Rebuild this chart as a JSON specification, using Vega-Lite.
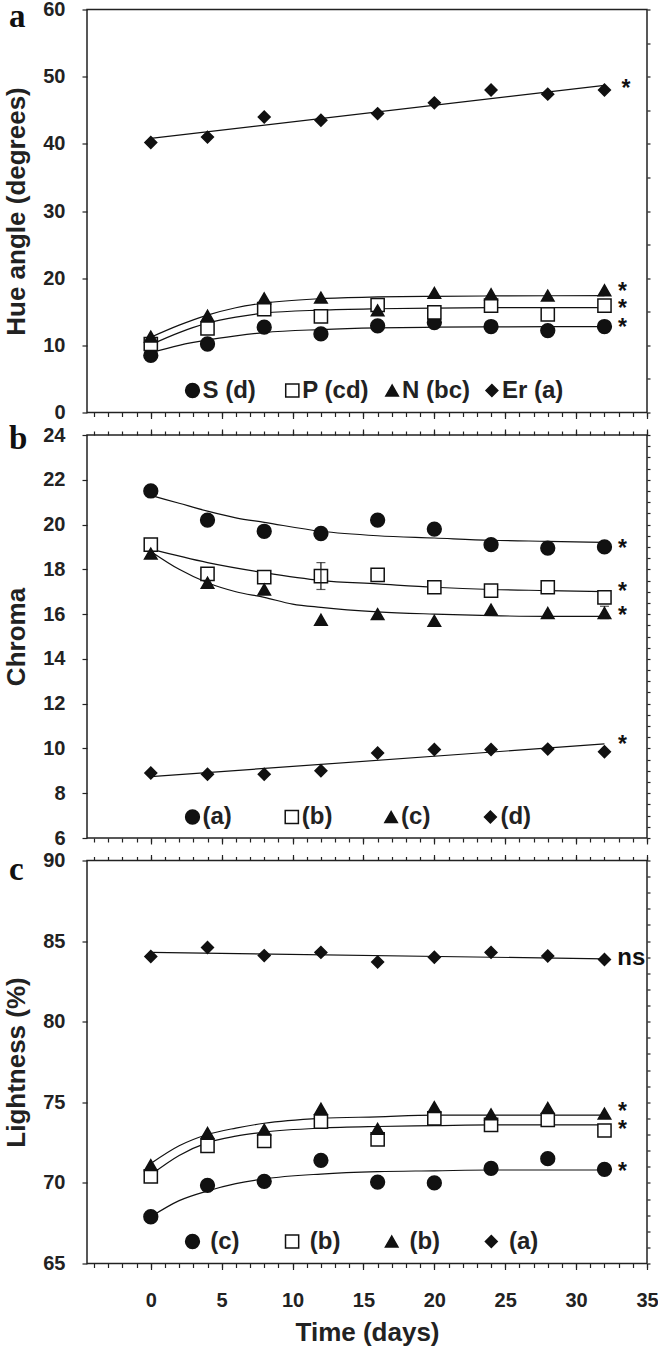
{
  "$schema": "https://vega.github.io/schema/vega-lite/v6.json",
  "padding": {"left": 2, "top": -1.5, "right": 0, "bottom": 0},
  "bounds": "flush",
  "spacing": 22.5,
  "resolve": {"scale": {"shape": "independent", "fill": "independent", "size": "independent", "stroke": "independent"}, "legend": {"shape": "independent", "fill": "independent", "size": "independent", "stroke": "independent"}},
  "config": {
    "font": "Liberation Sans",
    "view": {"stroke": "#222", "strokeWidth": 1.5},
    "axis": {"domain": false, "grid": false, "labelFont": "Liberation Sans", "labelFontWeight": "bold", "labelFontSize": 20, "labelColor": "#222", "labelFlush": false, "labelOverlap": false, "titleFont": "Liberation Sans", "titleFontWeight": "bold", "titleFontSize": 26, "titleColor": "#222", "tickColor": "#222", "tickWidth": 1.2},
    "legend": {"title": null, "labelFont": "Liberation Sans", "labelFontWeight": "bold", "labelFontSize": 24, "labelColor": "#222", "symbolStrokeColor": "#111", "symbolStrokeWidth": 1.5, "padding": 0, "rowPadding": 0},
    "title": {"font": "Liberation Serif", "fontSize": 33, "fontWeight": "bold", "color": "#111", "anchor": "start", "frame": "group", "baseline": "alphabetic", "offset": 0, "dx": -78}
  },
  "datasets": {
    "a_pts": [
      {"day": 0, "series": "S", "value": 8.5}, {"day": 4, "series": "S", "value": 10.2}, {"day": 8, "series": "S", "value": 12.7}, {"day": 12, "series": "S", "value": 11.7}, {"day": 16, "series": "S", "value": 12.9}, {"day": 20, "series": "S", "value": 13.4}, {"day": 24, "series": "S", "value": 12.8}, {"day": 28, "series": "S", "value": 12.2}, {"day": 32, "series": "S", "value": 12.8},
      {"day": 0, "series": "P", "value": 10.2}, {"day": 4, "series": "P", "value": 12.5}, {"day": 8, "series": "P", "value": 15.4}, {"day": 12, "series": "P", "value": 14.3}, {"day": 16, "series": "P", "value": 16.0}, {"day": 20, "series": "P", "value": 14.9}, {"day": 24, "series": "P", "value": 15.9}, {"day": 28, "series": "P", "value": 14.6}, {"day": 32, "series": "P", "value": 15.9},
      {"day": 0, "series": "N", "value": 11.3}, {"day": 4, "series": "N", "value": 14.4}, {"day": 8, "series": "N", "value": 17.0}, {"day": 12, "series": "N", "value": 17.1}, {"day": 16, "series": "N", "value": 15.2}, {"day": 20, "series": "N", "value": 17.8}, {"day": 24, "series": "N", "value": 17.6}, {"day": 28, "series": "N", "value": 17.4}, {"day": 32, "series": "N", "value": 18.2},
      {"day": 0, "series": "Er", "value": 40.2}, {"day": 4, "series": "Er", "value": 41.0}, {"day": 8, "series": "Er", "value": 44.0}, {"day": 12, "series": "Er", "value": 43.5}, {"day": 16, "series": "Er", "value": 44.5}, {"day": 20, "series": "Er", "value": 46.1}, {"day": 24, "series": "Er", "value": 48.0}, {"day": 28, "series": "Er", "value": 47.4}, {"day": 32, "series": "Er", "value": 48.0}
    ],
    "a_fit": [
      {"day": 0, "series": "S", "fit": 8.9}, {"day": 2, "series": "S", "fit": 10.0}, {"day": 4, "series": "S", "fit": 10.8}, {"day": 6, "series": "S", "fit": 11.4}, {"day": 8, "series": "S", "fit": 11.9}, {"day": 12, "series": "S", "fit": 12.35}, {"day": 16, "series": "S", "fit": 12.6}, {"day": 20, "series": "S", "fit": 12.7}, {"day": 24, "series": "S", "fit": 12.75}, {"day": 32, "series": "S", "fit": 12.8},
      {"day": 0, "series": "P", "fit": 10.1}, {"day": 2, "series": "P", "fit": 11.9}, {"day": 4, "series": "P", "fit": 13.3}, {"day": 6, "series": "P", "fit": 14.2}, {"day": 8, "series": "P", "fit": 14.8}, {"day": 12, "series": "P", "fit": 15.25}, {"day": 16, "series": "P", "fit": 15.45}, {"day": 20, "series": "P", "fit": 15.55}, {"day": 24, "series": "P", "fit": 15.6}, {"day": 32, "series": "P", "fit": 15.6},
      {"day": 0, "series": "N", "fit": 11.2}, {"day": 2, "series": "N", "fit": 13.0}, {"day": 4, "series": "N", "fit": 14.5}, {"day": 6, "series": "N", "fit": 15.6}, {"day": 8, "series": "N", "fit": 16.3}, {"day": 12, "series": "N", "fit": 16.95}, {"day": 16, "series": "N", "fit": 17.2}, {"day": 20, "series": "N", "fit": 17.3}, {"day": 24, "series": "N", "fit": 17.35}, {"day": 32, "series": "N", "fit": 17.4},
      {"day": 0, "series": "Er", "fit": 40.8}, {"day": 32, "series": "Er", "fit": 48.7}
    ],
    "a_ann": [
      {"day": 32.95, "value": 13.2, "label": "*"}, {"day": 32.95, "value": 16.05, "label": "*"}, {"day": 32.95, "value": 18.6, "label": "*"}, {"day": 33.2, "value": 48.8, "label": "*"}
    ],
    "b_pts": [
      {"day": 0, "series": "S", "value": 21.5}, {"day": 4, "series": "S", "value": 20.2}, {"day": 8, "series": "S", "value": 19.7}, {"day": 12, "series": "S", "value": 19.6}, {"day": 16, "series": "S", "value": 20.2}, {"day": 20, "series": "S", "value": 19.8}, {"day": 24, "series": "S", "value": 19.1}, {"day": 28, "series": "S", "value": 18.95}, {"day": 32, "series": "S", "value": 19.0},
      {"day": 0, "series": "P", "value": 19.1}, {"day": 4, "series": "P", "value": 17.8}, {"day": 8, "series": "P", "value": 17.65}, {"day": 12, "series": "P", "value": 17.7}, {"day": 16, "series": "P", "value": 17.75}, {"day": 20, "series": "P", "value": 17.2}, {"day": 24, "series": "P", "value": 17.05}, {"day": 28, "series": "P", "value": 17.2}, {"day": 32, "series": "P", "value": 16.75},
      {"day": 0, "series": "N", "value": 18.7}, {"day": 4, "series": "N", "value": 17.4}, {"day": 8, "series": "N", "value": 17.1}, {"day": 12, "series": "N", "value": 15.75}, {"day": 16, "series": "N", "value": 16.0}, {"day": 20, "series": "N", "value": 15.7}, {"day": 24, "series": "N", "value": 16.2}, {"day": 28, "series": "N", "value": 16.05}, {"day": 32, "series": "N", "value": 16.05},
      {"day": 0, "series": "Er", "value": 8.9}, {"day": 4, "series": "Er", "value": 8.85}, {"day": 8, "series": "Er", "value": 8.85}, {"day": 12, "series": "Er", "value": 9.0}, {"day": 16, "series": "Er", "value": 9.8}, {"day": 20, "series": "Er", "value": 9.95}, {"day": 24, "series": "Er", "value": 9.95}, {"day": 28, "series": "Er", "value": 9.97}, {"day": 32, "series": "Er", "value": 9.85}
    ],
    "b_fit": [
      {"day": 0, "series": "S", "fit": 21.3}, {"day": 2, "series": "S", "fit": 20.95}, {"day": 4, "series": "S", "fit": 20.6}, {"day": 6, "series": "S", "fit": 20.3}, {"day": 8, "series": "S", "fit": 20.1}, {"day": 12, "series": "S", "fit": 19.7}, {"day": 16, "series": "S", "fit": 19.5}, {"day": 20, "series": "S", "fit": 19.4}, {"day": 24, "series": "S", "fit": 19.3}, {"day": 28, "series": "S", "fit": 19.25}, {"day": 32, "series": "S", "fit": 19.2},
      {"day": 0, "series": "P", "fit": 18.9}, {"day": 4, "series": "P", "fit": 18.3}, {"day": 8, "series": "P", "fit": 17.85}, {"day": 12, "series": "P", "fit": 17.5}, {"day": 16, "series": "P", "fit": 17.35}, {"day": 20, "series": "P", "fit": 17.2}, {"day": 24, "series": "P", "fit": 17.1}, {"day": 28, "series": "P", "fit": 17.05}, {"day": 32, "series": "P", "fit": 17.0},
      {"day": 0, "series": "N", "fit": 18.8}, {"day": 2, "series": "N", "fit": 18.0}, {"day": 4, "series": "N", "fit": 17.4}, {"day": 6, "series": "N", "fit": 17.0}, {"day": 8, "series": "N", "fit": 16.75}, {"day": 10, "series": "N", "fit": 16.45}, {"day": 12, "series": "N", "fit": 16.3}, {"day": 16, "series": "N", "fit": 16.1}, {"day": 20, "series": "N", "fit": 16.0}, {"day": 24, "series": "N", "fit": 15.93}, {"day": 28, "series": "N", "fit": 15.9}, {"day": 32, "series": "N", "fit": 15.9},
      {"day": 0, "series": "Er", "fit": 8.74}, {"day": 32, "series": "Er", "fit": 10.2}
    ],
    "b_err": [
      {"day": 12, "lo": 17.1, "hi": 18.3}, {"day": 32, "lo": 15.8, "hi": 16.35}
    ],
    "b_ann": [
      {"day": 32.95, "value": 19.1, "label": "*"}, {"day": 32.95, "value": 17.17, "label": "*"}, {"day": 32.95, "value": 16.1, "label": "*"}, {"day": 32.95, "value": 10.35, "label": "*"}
    ],
    "c_pts": [
      {"day": 0, "series": "S", "value": 67.9}, {"day": 4, "series": "S", "value": 69.85}, {"day": 8, "series": "S", "value": 70.1}, {"day": 12, "series": "S", "value": 71.4}, {"day": 16, "series": "S", "value": 70.05}, {"day": 20, "series": "S", "value": 70.0}, {"day": 24, "series": "S", "value": 70.9}, {"day": 28, "series": "S", "value": 71.5}, {"day": 32, "series": "S", "value": 70.84},
      {"day": 0, "series": "P", "value": 70.4}, {"day": 4, "series": "P", "value": 72.3}, {"day": 8, "series": "P", "value": 72.6}, {"day": 12, "series": "P", "value": 73.8}, {"day": 16, "series": "P", "value": 72.7}, {"day": 20, "series": "P", "value": 74.0}, {"day": 24, "series": "P", "value": 73.6}, {"day": 28, "series": "P", "value": 73.9}, {"day": 32, "series": "P", "value": 73.25},
      {"day": 0, "series": "N", "value": 71.1}, {"day": 4, "series": "N", "value": 73.1}, {"day": 8, "series": "N", "value": 73.3}, {"day": 12, "series": "N", "value": 74.6}, {"day": 16, "series": "N", "value": 73.35}, {"day": 20, "series": "N", "value": 74.7}, {"day": 24, "series": "N", "value": 74.25}, {"day": 28, "series": "N", "value": 74.65}, {"day": 32, "series": "N", "value": 74.3},
      {"day": 0, "series": "Er", "value": 84.05}, {"day": 4, "series": "Er", "value": 84.6}, {"day": 8, "series": "Er", "value": 84.1}, {"day": 12, "series": "Er", "value": 84.3}, {"day": 16, "series": "Er", "value": 83.7}, {"day": 20, "series": "Er", "value": 84.0}, {"day": 24, "series": "Er", "value": 84.3}, {"day": 28, "series": "Er", "value": 84.07}, {"day": 32, "series": "Er", "value": 83.86}
    ],
    "c_fit": [
      {"day": 0, "series": "S", "fit": 67.9}, {"day": 2, "series": "S", "fit": 68.9}, {"day": 4, "series": "S", "fit": 69.5}, {"day": 6, "series": "S", "fit": 69.95}, {"day": 8, "series": "S", "fit": 70.25}, {"day": 12, "series": "S", "fit": 70.55}, {"day": 16, "series": "S", "fit": 70.7}, {"day": 20, "series": "S", "fit": 70.75}, {"day": 24, "series": "S", "fit": 70.8}, {"day": 32, "series": "S", "fit": 70.8},
      {"day": 0, "series": "P", "fit": 70.5}, {"day": 2, "series": "P", "fit": 71.7}, {"day": 4, "series": "P", "fit": 72.5}, {"day": 6, "series": "P", "fit": 72.9}, {"day": 8, "series": "P", "fit": 73.15}, {"day": 12, "series": "P", "fit": 73.4}, {"day": 16, "series": "P", "fit": 73.5}, {"day": 20, "series": "P", "fit": 73.55}, {"day": 24, "series": "P", "fit": 73.6}, {"day": 32, "series": "P", "fit": 73.6},
      {"day": 0, "series": "N", "fit": 71.2}, {"day": 2, "series": "N", "fit": 72.3}, {"day": 4, "series": "N", "fit": 73.0}, {"day": 6, "series": "N", "fit": 73.4}, {"day": 8, "series": "N", "fit": 73.7}, {"day": 12, "series": "N", "fit": 74.0}, {"day": 16, "series": "N", "fit": 74.1}, {"day": 20, "series": "N", "fit": 74.2}, {"day": 24, "series": "N", "fit": 74.2}, {"day": 32, "series": "N", "fit": 74.2},
      {"day": 0, "series": "Er", "fit": 84.3}, {"day": 32, "series": "Er", "fit": 83.9}
    ],
    "c_ann": [
      {"day": 32.95, "value": 70.94, "label": "*"}, {"day": 32.95, "value": 73.57, "label": "*"}, {"day": 32.95, "value": 74.66, "label": "*"}
    ],
    "c_ns": [
      {"day": 32.9, "value": 84.0, "label": "ns"}
    ]
  },
  "vconcat": [
    {
      "width": 560, "height": 403,
      "title": {"text": "a", "dy": 38.5},
      "resolve": {"axis": {"x": "independent", "y": "independent"}},
      "layer": [
        {
          "data": {"name": "a_fit"},
          "mark": {"type": "line", "color": "#111", "strokeWidth": 1.2, "interpolate": "monotone"},
          "encoding": {
            "x": {"field": "day", "type": "quantitative", "scale": {"domain": [-4.5, 35], "nice": false, "zero": false}, "axis": {"orient": "bottom", "values": [0, 5, 10, 15, 20, 25, 30, 35], "labels": false, "tickSize": 6, "title": null}},
            "y": {"field": "fit", "type": "quantitative", "scale": {"domain": [0, 60], "nice": false, "zero": false}, "axis": {"values": [0, 10, 20, 30, 40, 50, 60], "tickSize": 5, "labelPadding": 17, "title": "Hue angle (degrees)", "titlePadding": 15, "minExtent": 43, "maxExtent": 43}},
            "detail": {"field": "series"}
          }
        },
        {
          "data": {"name": "a_pts"},
          "mark": {"type": "point", "filled": true, "strokeWidth": 1.5, "opacity": 1},
          "encoding": {
            "x": {"field": "day", "type": "quantitative", "scale": {"domain": [-4.5, 35], "nice": false, "zero": false}, "axis": {"orient": "bottom", "values": [-4, -3, -2, -1, 0, 1, 2, 3, 4, 5, 6, 7, 8, 9, 10, 11, 12, 13, 14, 15, 16, 17, 18, 19, 20, 21, 22, 23, 24, 25, 26, 27, 28, 29, 30, 31, 32, 33, 34, 35], "labels": false, "tickSize": 4, "title": null}},
            "y": {"field": "value", "type": "quantitative", "scale": {"domain": [0, 60], "nice": false, "zero": false}, "axis": {"values": [0, 5, 10, 15, 20, 25, 30, 35, 40, 45, 50, 55, 60], "tickSize": 3, "labels": false, "title": null, "minExtent": 43, "maxExtent": 43}},
            "shape": {"field": "series", "type": "nominal", "scale": {"domain": ["S", "P", "N", "Er"], "range": ["circle", "square", "triangle-up", "diamond"]}, "legend": {"orient": "none", "legendX": 93.5, "legendY": 369, "direction": "horizontal", "columns": 4, "gridAlign": "all", "columnPadding": 9.8, "labelOffset": -2, "labelExpr": "datum.value == 'S' ? 'S (d)' : datum.value == 'P' ? 'P (cd)' : datum.value == 'N' ? 'N (bc)' : 'Er (a)'"}},
            "fill": {"field": "series", "type": "nominal", "scale": {"domain": ["S", "P", "N", "Er"], "range": ["#111", "#ffffff", "#111", "#111"]}},
            "stroke": {"field": "series", "type": "nominal", "scale": {"domain": ["S", "P", "N", "Er"], "range": ["#111", "#111", "#111", "#111"]}},
            "size": {"field": "series", "type": "nominal", "scale": {"domain": ["S", "P", "N", "Er"], "range": [190, 140, 210, 280]}}
          }
        },
        {
          "data": {"name": "a_ann"},
          "mark": {"type": "text", "align": "left", "baseline": "alphabetic", "dy": 11.5, "font": "Liberation Sans", "fontWeight": "bold", "fontSize": 23, "color": "#111"},
          "encoding": {
            "x": {"field": "day", "type": "quantitative", "scale": {"domain": [-4.5, 35], "nice": false, "zero": false}, "axis": null},
            "y": {"field": "value", "type": "quantitative", "scale": {"domain": [0, 60], "nice": false, "zero": false}, "axis": null},
            "text": {"field": "label"}
          }
        }
      ]
    },
    {
      "width": 560, "height": 403,
      "title": {"text": "b", "dy": 35},
      "resolve": {"axis": {"x": "independent", "y": "independent"}},
      "layer": [
        {
          "data": {"name": "b_fit"},
          "mark": {"type": "line", "color": "#111", "strokeWidth": 1.2, "interpolate": "monotone"},
          "encoding": {
            "x": {"field": "day", "type": "quantitative", "scale": {"domain": [-4.5, 35], "nice": false, "zero": false}, "axis": {"orient": "bottom", "values": [0, 5, 10, 15, 20, 25, 30, 35], "labels": false, "tickSize": 6, "title": null}},
            "y": {"field": "fit", "type": "quantitative", "scale": {"domain": [6, 24], "nice": false, "zero": false}, "axis": {"values": [6, 8, 10, 12, 14, 16, 18, 20, 22, 24], "tickSize": 5, "labelPadding": 17, "title": "Chroma", "titlePadding": 15, "minExtent": 43, "maxExtent": 43}},
            "detail": {"field": "series"}
          }
        },
        {
          "data": {"name": "b_pts"},
          "mark": {"type": "point", "filled": true, "strokeWidth": 1.5, "opacity": 1},
          "encoding": {
            "x": {"field": "day", "type": "quantitative", "scale": {"domain": [-4.5, 35], "nice": false, "zero": false}, "axis": {"orient": "bottom", "values": [-4, -3, -2, -1, 0, 1, 2, 3, 4, 5, 6, 7, 8, 9, 10, 11, 12, 13, 14, 15, 16, 17, 18, 19, 20, 21, 22, 23, 24, 25, 26, 27, 28, 29, 30, 31, 32, 33, 34, 35], "labels": false, "tickSize": 4, "title": null}},
            "y": {"field": "value", "type": "quantitative", "scale": {"domain": [6, 24], "nice": false, "zero": false}, "axis": {"values": [6, 6.5, 7, 7.5, 8, 8.5, 9, 9.5, 10, 10.5, 11, 11.5, 12, 12.5, 13, 13.5, 14, 14.5, 15, 15.5, 16, 16.5, 17, 17.5, 18, 18.5, 19, 19.5, 20, 20.5, 21, 21.5, 22, 22.5, 23, 23.5, 24], "tickSize": 3, "labels": false, "title": null, "minExtent": 43, "maxExtent": 43}},
            "shape": {"field": "series", "type": "nominal", "scale": {"domain": ["S", "P", "N", "Er"], "range": ["circle", "square", "triangle-up", "diamond"]}, "legend": {"orient": "none", "legendX": 93.5, "legendY": 370, "direction": "horizontal", "columns": 4, "gridAlign": "all", "columnPadding": 46.3, "labelOffset": -2, "labelExpr": "datum.value == 'S' ? '(a)' : datum.value == 'P' ? '(b)' : datum.value == 'N' ? '(c)' : '(d)'"}},
            "fill": {"field": "series", "type": "nominal", "scale": {"domain": ["S", "P", "N", "Er"], "range": ["#111", "#ffffff", "#111", "#111"]}},
            "stroke": {"field": "series", "type": "nominal", "scale": {"domain": ["S", "P", "N", "Er"], "range": ["#111", "#111", "#111", "#111"]}},
            "size": {"field": "series", "type": "nominal", "scale": {"domain": ["S", "P", "N", "Er"], "range": [190, 140, 210, 280]}}
          }
        },
        {
          "data": {"name": "b_ann"},
          "mark": {"type": "text", "align": "left", "baseline": "alphabetic", "dy": 11.5, "font": "Liberation Sans", "fontWeight": "bold", "fontSize": 23, "color": "#111"},
          "encoding": {
            "x": {"field": "day", "type": "quantitative", "scale": {"domain": [-4.5, 35], "nice": false, "zero": false}, "axis": {"orient": "top", "values": [0, 5, 10, 15, 20, 25, 30, 35], "labels": false, "tickSize": 6, "title": null}},
            "y": {"field": "value", "type": "quantitative", "scale": {"domain": [6, 24], "nice": false, "zero": false}, "axis": null},
            "text": {"field": "label"}
          }
        },
        {
          "data": {"name": "b_err"},
          "mark": {"type": "rule", "color": "#111", "strokeWidth": 1.2},
          "encoding": {
            "x": {"field": "day", "type": "quantitative", "scale": {"domain": [-4.5, 35], "nice": false, "zero": false}, "axis": {"orient": "top", "values": [-4, -3, -2, -1, 0, 1, 2, 3, 4, 5, 6, 7, 8, 9, 10, 11, 12, 13, 14, 15, 16, 17, 18, 19, 20, 21, 22, 23, 24, 25, 26, 27, 28, 29, 30, 31, 32, 33, 34, 35], "labels": false, "tickSize": 4, "title": null}},
            "y": {"field": "lo", "type": "quantitative", "scale": {"domain": [6, 24], "nice": false, "zero": false}, "axis": null},
            "y2": {"field": "hi"}
          }
        },
        {
          "data": {"name": "b_err"},
          "mark": {"type": "tick", "orient": "horizontal", "color": "#111", "size": 9, "thickness": 1.2},
          "encoding": {
            "x": {"field": "day", "type": "quantitative", "scale": {"domain": [-4.5, 35], "nice": false, "zero": false}, "axis": null},
            "y": {"field": "lo", "type": "quantitative", "scale": {"domain": [6, 24], "nice": false, "zero": false}, "axis": null}
          }
        },
        {
          "data": {"name": "b_err"},
          "mark": {"type": "tick", "orient": "horizontal", "color": "#111", "size": 9, "thickness": 1.2},
          "encoding": {
            "x": {"field": "day", "type": "quantitative", "scale": {"domain": [-4.5, 35], "nice": false, "zero": false}, "axis": null},
            "y": {"field": "hi", "type": "quantitative", "scale": {"domain": [6, 24], "nice": false, "zero": false}, "axis": null}
          }
        }
      ]
    },
    {
      "width": 560, "height": 403,
      "title": {"text": "c", "dy": 40},
      "resolve": {"axis": {"x": "independent", "y": "independent"}},
      "layer": [
        {
          "data": {"name": "c_fit"},
          "mark": {"type": "line", "color": "#111", "strokeWidth": 1.2, "interpolate": "monotone"},
          "encoding": {
            "x": {"field": "day", "type": "quantitative", "scale": {"domain": [-4.5, 35], "nice": false, "zero": false}, "axis": {"orient": "bottom", "values": [0, 5, 10, 15, 20, 25, 30, 35], "tickSize": 6, "labelPadding": 21, "title": "Time (days)", "titlePadding": 9}},
            "y": {"field": "fit", "type": "quantitative", "scale": {"domain": [65, 90], "nice": false, "zero": false}, "axis": {"values": [65, 70, 75, 80, 85, 90], "tickSize": 5, "labelPadding": 17, "title": "Lightness (%)", "titlePadding": 15, "minExtent": 43, "maxExtent": 43}},
            "detail": {"field": "series"}
          }
        },
        {
          "data": {"name": "c_pts"},
          "mark": {"type": "point", "filled": true, "strokeWidth": 1.5, "opacity": 1},
          "encoding": {
            "x": {"field": "day", "type": "quantitative", "scale": {"domain": [-4.5, 35], "nice": false, "zero": false}, "axis": {"orient": "bottom", "values": [-4, -3, -2, -1, 0, 1, 2, 3, 4, 5, 6, 7, 8, 9, 10, 11, 12, 13, 14, 15, 16, 17, 18, 19, 20, 21, 22, 23, 24, 25, 26, 27, 28, 29, 30, 31, 32, 33, 34, 35], "labels": false, "tickSize": 4, "title": null}},
            "y": {"field": "value", "type": "quantitative", "scale": {"domain": [65, 90], "nice": false, "zero": false}, "axis": {"values": [65, 66, 67, 68, 69, 70, 71, 72, 73, 74, 75, 76, 77, 78, 79, 80, 81, 82, 83, 84, 85, 86, 87, 88, 89, 90], "tickSize": 3, "labels": false, "title": null, "minExtent": 43, "maxExtent": 43}},
            "shape": {"field": "series", "type": "nominal", "scale": {"domain": ["S", "P", "N", "Er"], "range": ["circle", "square", "triangle-up", "diamond"]}, "legend": {"orient": "none", "legendX": 93.5, "legendY": 369, "direction": "horizontal", "columns": 4, "gridAlign": "all", "columnPadding": 38.6, "labelOffset": 5.7, "labelExpr": "datum.value == 'S' ? '(c)' : datum.value == 'P' ? '(b)' : datum.value == 'N' ? '(b)' : '(a)'"}},
            "fill": {"field": "series", "type": "nominal", "scale": {"domain": ["S", "P", "N", "Er"], "range": ["#111", "#ffffff", "#111", "#111"]}},
            "stroke": {"field": "series", "type": "nominal", "scale": {"domain": ["S", "P", "N", "Er"], "range": ["#111", "#111", "#111", "#111"]}},
            "size": {"field": "series", "type": "nominal", "scale": {"domain": ["S", "P", "N", "Er"], "range": [190, 140, 210, 280]}}
          }
        },
        {
          "data": {"name": "c_ann"},
          "mark": {"type": "text", "align": "left", "baseline": "alphabetic", "dy": 11.5, "font": "Liberation Sans", "fontWeight": "bold", "fontSize": 23, "color": "#111"},
          "encoding": {
            "x": {"field": "day", "type": "quantitative", "scale": {"domain": [-4.5, 35], "nice": false, "zero": false}, "axis": {"orient": "top", "values": [0, 5, 10, 15, 20, 25, 30, 35], "labels": false, "tickSize": 6, "title": null}},
            "y": {"field": "value", "type": "quantitative", "scale": {"domain": [65, 90], "nice": false, "zero": false}, "axis": null},
            "text": {"field": "label"}
          }
        },
        {
          "data": {"name": "c_ns"},
          "mark": {"type": "text", "align": "left", "baseline": "alphabetic", "dy": 8, "font": "Liberation Sans", "fontWeight": "bold", "fontSize": 24, "color": "#111"},
          "encoding": {
            "x": {"field": "day", "type": "quantitative", "scale": {"domain": [-4.5, 35], "nice": false, "zero": false}, "axis": {"orient": "top", "values": [-4, -3, -2, -1, 0, 1, 2, 3, 4, 5, 6, 7, 8, 9, 10, 11, 12, 13, 14, 15, 16, 17, 18, 19, 20, 21, 22, 23, 24, 25, 26, 27, 28, 29, 30, 31, 32, 33, 34, 35], "labels": false, "tickSize": 4, "title": null}},
            "y": {"field": "value", "type": "quantitative", "scale": {"domain": [65, 90], "nice": false, "zero": false}, "axis": null},
            "text": {"field": "label"}
          }
        }
      ]
    }
  ]
}
